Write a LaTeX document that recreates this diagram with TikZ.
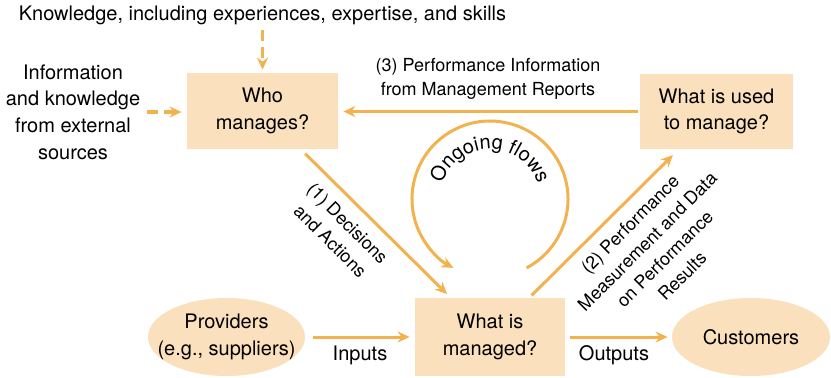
\documentclass[tikz,border=0pt]{standalone}
\usepackage{fontspec}
\setmainfont{TeX Gyre Heros}
\usetikzlibrary{arrows.meta,shapes.geometric,decorations.text}
\definecolor{boxfill}{RGB}{250,224,188}
\definecolor{flowline}{RGB}{242,178,78}
\tikzset{
  box/.style={rectangle,fill=boxfill,align=center,inner sep=0pt},
  oval/.style={ellipse,fill=boxfill,align=center,inner xsep=-12pt,inner ysep=0pt,minimum width=78.5pt,minimum height=39pt},
  flow/.style={draw=flowline,line width=1.5pt,-{Stealth[length=6pt,width=5.5pt,inset=2pt]}},
  feed/.style={flow,line width=1.8pt,dash pattern=on 5.5pt off 3pt},
  lbl/.style={align=center,inner sep=0pt},
  flowlbl/.style={lbl,font=\fontsize{9}{12.3}\selectfont}
}
\begin{document}
\begin{tikzpicture}[x=0.5pt,y=-0.5pt,font=\fontsize{10}{13.3}\selectfont]
\useasboundingbox (0,0) rectangle (831,377);
% the three questions
\node[box,minimum width=75.5pt,minimum height=38pt] (who) at (262.5,111) {Who\\manages?};
\node[box,minimum width=76.5pt,minimum height=37.5pt] (used) at (716.5,111.5) {What is used\\to manage?};
\node[box,minimum width=75pt,minimum height=39pt] (managed) at (490,337) {What is\\managed?};
\node[oval] (prov) at (226.5,337) {Providers\\(e.g., suppliers)};
\node[oval,minimum width=79pt] (cust) at (751,337) {Customers};
% outside knowledge
\node[lbl] (know) at (262.5,15) {Knowledge, including experiences, expertise, and skills};
\node[lbl] (info) at (73,112) {Information\\and knowledge\\from external\\sources};
\draw[feed,shorten <=2.5pt,shorten >=1.5pt] (know.south) -- (who.north);
\draw[feed,shorten <=3pt,shorten >=2.5pt] (info.east) -- (info.east -| who.west);
% (1) (2) (3)
\draw[flow,shorten <=3pt,shorten >=2.5pt] (who.-45) -- (managed.135);
\node[flowlbl,rotate=-45] (declbl) at (339,232) {(1) Decisions\\and Actions};
\draw[flow,shorten <=1.5pt,shorten >=4pt] (managed.45) -- (used.-135);
\node[flowlbl,rotate=45] (perflbl) at (656,250) {(2) Performance\\Measurement and Data\\on Performance\\Results};
\draw[flow,shorten <=1pt,shorten >=2.5pt] (used.west) -- (used.west -| who.east);
\node[flowlbl] (replbl) at (488,79) {(3) Performance Information\\from Management Reports};
% inputs, outputs
\draw[flow,shorten <=3.75pt,shorten >=2.5pt] (prov.east) -- (managed.west);
\node[lbl] (inlbl) at (360,355) {Inputs};
\draw[flow,shorten <=2.5pt,shorten >=2pt] (managed.east) -- (cust.west);
\node[lbl] (outlbl) at (614,355) {Outputs};
% ongoing flows loop
\coordinate (loop) at (490,199);
\draw[flow] ([shift={(62:78)}]loop) arc[start angle=62,end angle=-242,radius=78];
\path[decorate,decoration={text along path,text align=center,text={Ongoing flows}}]
  ([shift={(-170:50)}]loop) arc[start angle=-170,end angle=-10,radius=50];
\end{tikzpicture}
\end{document}
